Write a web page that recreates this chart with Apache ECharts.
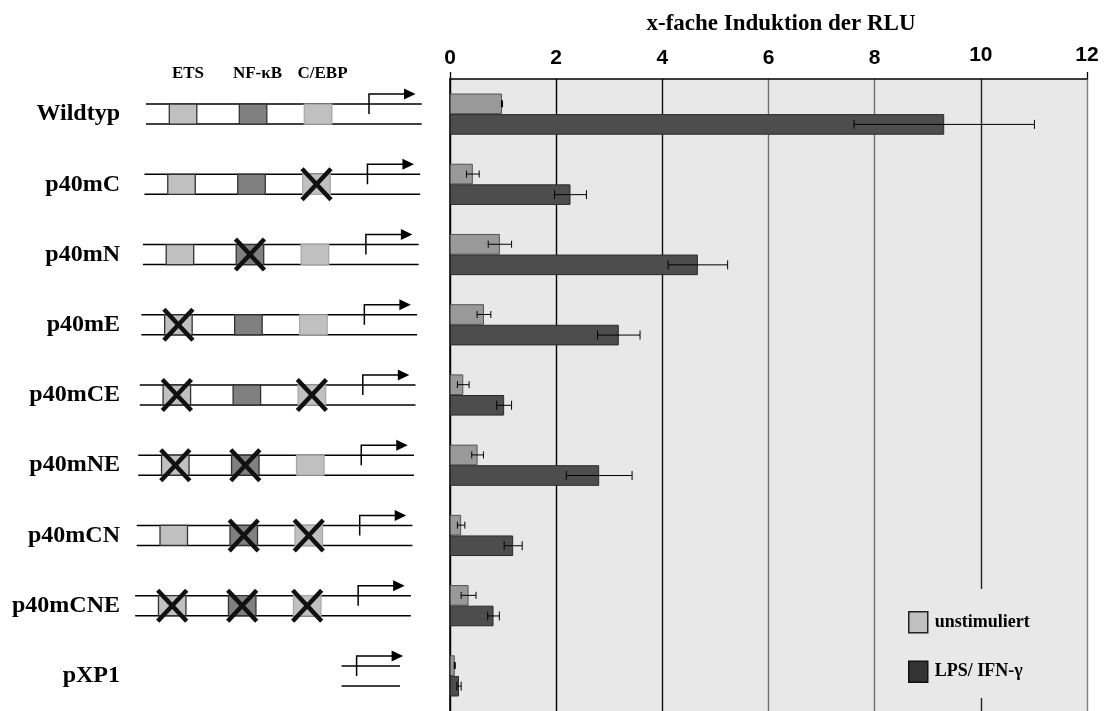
<!DOCTYPE html>
<html>
<head>
<meta charset="utf-8">
<script src="https://cdn.jsdelivr.net/npm/echarts@6/dist/echarts.min.js"></script>
<style>
html,body{margin:0;padding:0;background:#fff;}
#chart{width:1110px;height:711px;}
</style>
</head>
<body>
<div id="chart"></div>
<script>
// ---- data ----
const categories = ['Wildtyp','p40mC','p40mN','p40mE','p40mCE','p40mNE','p40mCN','p40mCNE','pXP1'];
const unstimuliert    = [0.98, 0.43, 0.94, 0.64, 0.25, 0.52, 0.21, 0.35, 0.09];
const unstimuliertErr = [0.01, 0.12, 0.22, 0.13, 0.11, 0.11, 0.07, 0.14, 0.01];
const lpsIfn          = [9.31, 2.27, 4.67, 3.18, 1.02, 2.81, 1.19, 0.82, 0.17];
const lpsIfnErr       = [1.70, 0.30, 0.56, 0.40, 0.14, 0.62, 0.17, 0.11, 0.04];
// binding sites per construct: 'wt' intact, 'mut' mutated, 'none' absent
const etsSite  = ['wt','wt','wt','mut','mut','mut','wt','mut','none'];
const nfkbSite = ['wt','wt','mut','wt','wt','mut','mut','mut','none'];
const cebpSite = ['wt','mut','wt','wt','mut','wt','mut','mut','none'];
const siteLabels = ['ETS','NF-κB','C/EBP'];
const seriesNames = ['unstimuliert','LPS/ IFN-γ'];
const xTickValues = [0, 2, 4, 6, 8, 10, 12];

// ---- styling ----
const SERIF = '"Liberation Serif","Times New Roman",serif';
const SANS = '"Liberation Sans",Arial,sans-serif';
const BAR_W = 20.6;
const PLOT_BG = '#e8e8e8';

const chart = echarts.init(document.getElementById('chart'), null, {renderer:'canvas'});

function errRender(sign, cap){
  return function(params, api){
    const v = api.value(0), idx = api.value(1), e = api.value(2);
    const lo = api.coord([v - e, idx]);
    const hi = api.coord([v + e, idx]);
    const y = lo[1] + sign * BAR_W / 2;
    const st = {stroke:'#000', lineWidth:1};
    return {type:'group', children:[
      {type:'line', shape:{x1:lo[0], y1:y, x2:hi[0], y2:y}, style:st},
      {type:'line', shape:{x1:lo[0], y1:y-cap, x2:lo[0], y2:y+cap}, style:st},
      {type:'line', shape:{x1:hi[0], y1:y-cap, x2:hi[0], y2:y+cap}, style:st}
    ]};
  };
}

const siteFill = ['#c0c0c0', '#808080', '#c0c0c0'];
const siteStroke = ['#333', '#333', '#a8a8a8'];
const siteOffset = [23.3, 93.3, 158.3];
const SITE_W = 27.5;

function diagramRender(params, api){
  const i = api.value(0);
  const cy = api.coord([0, i])[1];
  const x0 = api.coord([146 - 1.55 * i, i])[0];
  const children = [];
  const lineSt = {stroke:'#000', lineWidth:1.5};
  const sites = [etsSite[i], nfkbSite[i], cebpSite[i]];
  const hasSites = sites.some(s => s !== 'none');
  const lx1 = hasSites ? x0 : x0 + 208;
  const lx2 = x0 + 275.7 - (hasSites ? 0 : 9.3);
  children.push({type:'line', shape:{x1:lx1, y1:cy-10, x2:lx2, y2:cy-10}, style:lineSt});
  children.push({type:'line', shape:{x1:lx1, y1:cy+10, x2:lx2, y2:cy+10}, style:lineSt});
  sites.forEach((s, k) => {
    if (s === 'none') return;
    const bx = x0 + siteOffset[k];
    children.push({type:'rect', shape:{x:bx, y:cy-10, width:SITE_W, height:20},
      style:{fill:siteFill[k], stroke:siteStroke[k], lineWidth:1.3}});
    if (s === 'mut') {
      const cx = bx + SITE_W/2;
      const xs = {stroke:'#111', lineWidth:4.5, lineCap:'butt'};
      children.push({type:'line', shape:{x1:cx-14.5, y1:cy-15.5, x2:cx+14.5, y2:cy+15.5}, style:xs});
      children.push({type:'line', shape:{x1:cx+14.5, y1:cy-15.5, x2:cx-14.5, y2:cy+15.5}, style:xs});
    }
  });
  // transcription start arrow
  const ax = x0 + 223;
  children.push({type:'polyline', shape:{points:[[ax, cy], [ax, cy-20], [x0+259, cy-20]]},
    style:{stroke:'#000', lineWidth:1.5, fill:null}});
  children.push({type:'polygon', shape:{points:[[x0+258, cy-25.5], [x0+269.5, cy-20], [x0+258, cy-14.5]]},
    style:{fill:'#000'}});
  return {type:'group', children};
}

const option = {
  animation:false,
  backgroundColor:'#fff',
  title:{
    text:'x-fache Induktion der RLU', left:776, top:8, textAlign:'center',
    textStyle:{fontFamily:SERIF, fontWeight:'bold', fontSize:23, color:'#000'}
  },
  legend:{
    orient:'vertical', left:895, top:589,
    padding:[22, 12, 15, 13],
    backgroundColor:PLOT_BG,
    itemWidth:19, itemHeight:21, itemGap:27,
    icon:'rect',
    textStyle:{fontFamily:SERIF, fontWeight:'bold', fontSize:18, color:'#000', padding:[0,0,0,2]},
    data:[
      {name:seriesNames[0], itemStyle:{color:'#c0c0c0', borderColor:'#222', borderWidth:1.5}},
      {name:seriesNames[1], itemStyle:{color:'#333333', borderColor:'#111', borderWidth:1.5}}
    ]
  },
  grid:[
    {left:450, top:79, width:637, height:634, show:true, backgroundColor:PLOT_BG, borderWidth:0},
    {left:0, top:79, width:450, height:634, show:false}
  ],
  xAxis:[
    {
      type:'value', gridIndex:0, position:'top', min:0, max:12, interval:2,
      axisLine:{show:true, lineStyle:{color:'#000', width:1.5}},
      axisTick:{show:false},
      axisLabel:{
        margin:10,
        formatter: v => (v >= 10 ? '{h|' + v + '}' : '{n|' + v + '}'),
        rich:{
          n:{fontFamily:SANS, fontWeight:'bold', fontSize:21, color:'#000', lineHeight:21},
          h:{fontFamily:SANS, fontWeight:'bold', fontSize:21, color:'#000', lineHeight:28}
        }
      },
      splitLine:{show:true, lineStyle:{width:1.4, color:['#000','#000','#111','#707070','#707070','#222','#808080']}}
    },
    {type:'value', gridIndex:1, min:0, max:450, show:false},
    {
      type:'value', gridIndex:0, position:'top', min:0, max:12, interval:2,
      axisLine:{show:false}, axisLabel:{show:false}, splitLine:{show:false},
      axisTick:{show:true, customValues:[xTickValues[0], xTickValues[xTickValues.length-1]], length:7, lineStyle:{color:'#000', width:1.3}}
    }
  ],
  yAxis:[
    {
      type:'category', gridIndex:0, data:categories, inverse:true,
      axisLine:{show:true, lineStyle:{color:'#000', width:1.5}},
      axisTick:{show:false},
      axisLabel:{margin:330, fontFamily:SERIF, fontWeight:'bold', fontSize:24, color:'#000'}
    },
    {type:'category', gridIndex:1, data:categories, inverse:true, show:false}
  ],
  graphic:[
    {type:'text', x:188, y:74, style:{text:siteLabels[0], font:'bold 17px ' + SERIF, fill:'#000', align:'center', verticalAlign:'middle'}},
    {type:'text', x:257.5, y:74, style:{text:siteLabels[1], font:'bold 17px ' + SERIF, fill:'#000', align:'center', verticalAlign:'middle'}},
    {type:'text', x:322.5, y:74, style:{text:siteLabels[2], font:'bold 17px ' + SERIF, fill:'#000', align:'center', verticalAlign:'middle'}}
  ],
  series:[
    {
      name:seriesNames[0], type:'bar', xAxisIndex:0, yAxisIndex:0,
      data:unstimuliert, barWidth:BAR_W, barGap:'0%',
      itemStyle:{color:'#999999', borderColor:'#555', borderWidth:1}
    },
    {
      name:seriesNames[1], type:'bar', xAxisIndex:0, yAxisIndex:0,
      data:lpsIfn, barWidth:BAR_W, barGap:'0%',
      itemStyle:{color:'#4d4d4d', borderColor:'#2a2a2a', borderWidth:1}
    },
    {
      name:'errU', type:'custom', xAxisIndex:0, yAxisIndex:0, z:5,
      renderItem:errRender(-1, 3.5), encode:{x:0, y:1},
      data:unstimuliert.map((v, i) => [v, i, unstimuliertErr[i]])
    },
    {
      name:'errL', type:'custom', xAxisIndex:0, yAxisIndex:0, z:5,
      renderItem:errRender(1, 4.5), encode:{x:0, y:1},
      data:lpsIfn.map((v, i) => [v, i, lpsIfnErr[i]])
    },
    {
      name:'diagram', type:'custom', xAxisIndex:1, yAxisIndex:1, z:3,
      renderItem:diagramRender, encode:{x:1, y:0}, silent:true,
      data:categories.map((c, i) => [i, 0])
    }
  ]
};
chart.setOption(option);
</script>
</body>
</html>
